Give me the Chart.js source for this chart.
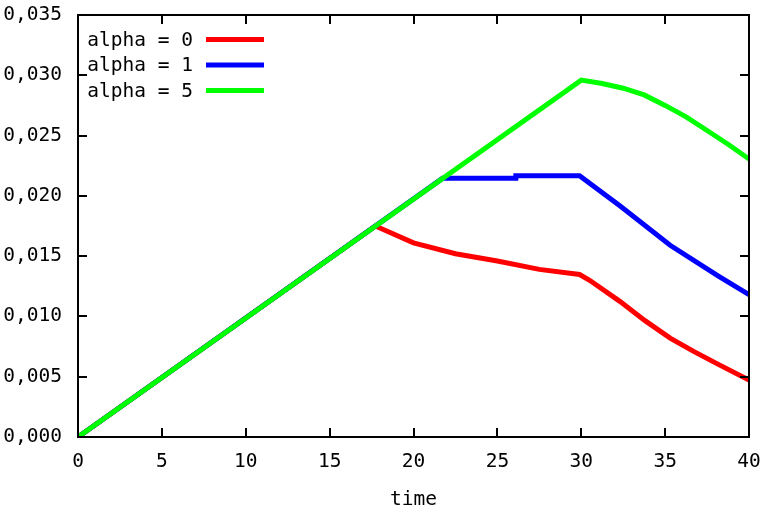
<!DOCTYPE html>
<html>
<head>
<meta charset="utf-8">
<script src="https://cdn.jsdelivr.net/npm/chart.js@4.4.1/dist/chart.umd.min.js"></script>
<style>
  html, body { margin: 0; padding: 0; background: #fff; }
  canvas { display: block; }
</style>
</head>
<body>
<canvas id="chart" width="773" height="514"></canvas>
<script>
// values
const xTicks = [0, 5, 10, 15, 20, 25, 30, 35, 40];
const yTicks = [0, 0.005, 0.01, 0.015, 0.02, 0.025, 0.03, 0.035];

const labels = ['alpha = 0', 'alpha = 1', 'alpha = 5'];
const colors = ['#ff0000', '#0000ff', '#00ff00'];

const timeA0 = [0, 17.73, 20, 22.5, 25, 27.5, 29.9, 30.5, 32.3, 33.8, 35.3, 36.7, 38.2, 40];
const valA0 = [0, 0.0175, 0.0161, 0.0152, 0.0146, 0.0139, 0.01348, 0.0130, 0.01125, 0.00965, 0.0082, 0.0071, 0.006, 0.00473];

const timeA1 = [0, 21.73, 26.1, 26.1, 29.9, 32.3, 35.3, 38.2, 40];
const valA1 = [0, 0.02145, 0.02145, 0.02167, 0.02167, 0.01917, 0.0159, 0.01333, 0.0118];

const timeA5 = [0, 30, 31.25, 32.5, 33.75, 35, 36.25, 37.5, 38.75, 40];
const valA5 = [0, 0.0296, 0.02932, 0.02893, 0.02837, 0.0275, 0.02655, 0.02542, 0.02428, 0.02306];

const FONT = { family: 'DejaVu Sans Mono', size: 19.5 };

const toPoints = (xs, ys) => xs.map((x, i) => ({ x: x, y: ys[i] }));
const series = [toPoints(timeA0, valA0), toPoints(timeA1, valA1), toPoints(timeA5, valA5)];

// gnuplot style frame: border with inward ticks on all four sides
const framePlugin = {
  id: 'frame',
  afterDatasetsDraw(chart) {
    const ctx = chart.ctx;
    const a = chart.chartArea;
    const xs = chart.scales.x;
    const ys = chart.scales.y;
    const len = 9;
    ctx.save();
    ctx.strokeStyle = '#000';
    ctx.lineWidth = 2;
    ctx.beginPath();
    xTicks.forEach(v => {
      const px = Math.round(xs.getPixelForValue(v));
      ctx.moveTo(px, a.bottom); ctx.lineTo(px, a.bottom - len);
      ctx.moveTo(px, a.top); ctx.lineTo(px, a.top + len);
    });
    yTicks.forEach(v => {
      const py = Math.round(ys.getPixelForValue(v));
      ctx.moveTo(a.left, py); ctx.lineTo(a.left + len, py);
      ctx.moveTo(a.right, py); ctx.lineTo(a.right - len, py);
    });
    ctx.rect(a.left, a.top, a.right - a.left, a.bottom - a.top);
    ctx.stroke();
    ctx.restore();
  }
};

// key in the upper left corner: text then a line sample
const keyPlugin = {
  id: 'key',
  afterDraw(chart) {
    const ctx = chart.ctx;
    const a = chart.chartArea;
    ctx.save();
    ctx.font = FONT.size + 'px ' + FONT.family;
    ctx.textAlign = 'right';
    ctx.textBaseline = 'middle';
    chart.data.datasets.forEach((ds, i) => {
      const y = a.top + 24.5 + i * 25.5;
      ctx.fillStyle = '#000';
      ctx.fillText(ds.label, a.left + 115, y + 1);
      ctx.strokeStyle = ds.borderColor;
      ctx.lineWidth = 5;
      ctx.beginPath();
      ctx.moveTo(a.left + 128, y);
      ctx.lineTo(a.left + 186, y);
      ctx.stroke();
    });
    ctx.restore();
  }
};

new Chart(document.getElementById('chart'), {
  type: 'line',
  data: {
    datasets: labels.map((label, i) => ({
      label: label,
      data: series[i],
      borderColor: colors[i],
      backgroundColor: colors[i],
      borderWidth: 5,
      pointRadius: 0,
      tension: 0,
      fill: false,
      order: labels.length - i // last series drawn on top, like gnuplot
    }))
  },
  options: {
    responsive: false,
    animation: false,
    devicePixelRatio: 1,
    layout: { padding: { left: 0, top: 15, right: 24, bottom: 0 } },
    plugins: {
      legend: { display: false },
      tooltip: { enabled: false }
    },
    scales: {
      x: {
        type: 'linear',
        min: 0,
        max: 40,
        border: { display: false },
        grid: { display: false, drawTicks: false },
        ticks: { stepSize: 5, color: '#000', font: FONT, padding: 13, maxRotation: 0 },
        title: { display: true, text: 'time', color: '#000', font: FONT, padding: { top: 0, bottom: 2 } },
        afterFit: (scale) => {
          scale.height = 77;
          scale.paddingLeft = 0;
          scale.paddingRight = 0;
        }
      },
      y: {
        min: 0,
        max: 0.035,
        border: { display: false },
        grid: { display: false, drawTicks: false },
        ticks: {
          stepSize: 0.005,
          color: '#000',
          font: FONT,
          padding: 16,
          callback: (v) => v.toFixed(3).replace('.', ',')
        },
        afterFit: (scale) => {
          scale.width = 78;
          scale.paddingTop = 0;
          scale.paddingBottom = 0;
        }
      }
    }
  },
  plugins: [framePlugin, keyPlugin]
});
</script>
</body>
</html>
